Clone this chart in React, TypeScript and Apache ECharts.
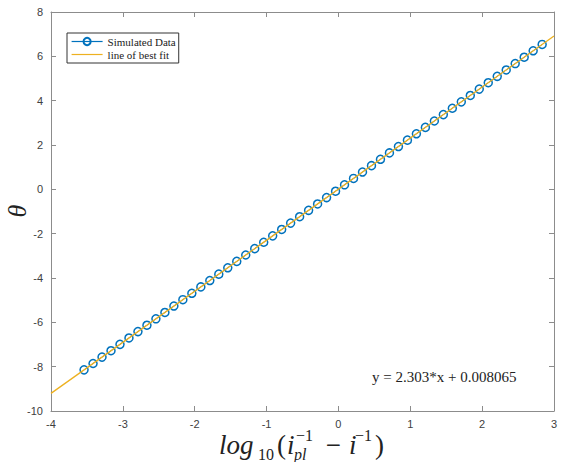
import React, { useEffect, useRef } from "react";
import * as echarts from "echarts";

// Simulated data: x = log10(i_pl^-1 - i^-1), y = theta
const simX = [
  -3.54, -3.415, -3.29, -3.165, -3.04, -2.915, -2.79, -2.665, -2.54, -2.415,
  -2.29, -2.165, -2.04, -1.915, -1.79, -1.665, -1.54, -1.415, -1.29, -1.165,
  -1.04, -0.915, -0.79, -0.665, -0.54, -0.415, -0.29, -0.165, -0.04, 0.085,
  0.21, 0.335, 0.46, 0.585, 0.71, 0.835, 0.96, 1.085, 1.21, 1.335,
  1.46, 1.585, 1.71, 1.835, 1.96, 2.085, 2.21, 2.335, 2.46, 2.585,
  2.71, 2.835,
];
const simY = [
  -8.1446, -7.8567, -7.5688, -7.2809, -6.993, -6.7052, -6.4173, -6.1294, -5.8415, -5.5537,
  -5.2658, -4.9779, -4.69, -4.4022, -4.1143, -3.8264, -3.5385, -3.2507, -2.9628, -2.6749,
  -2.387, -2.0992, -1.8113, -1.5234, -1.2355, -0.9477, -0.6598, -0.3719, -0.084, 0.2038,
  0.4917, 0.7796, 1.0675, 1.3553, 1.6432, 1.9311, 2.219, 2.5068, 2.7947, 3.0826,
  3.3705, 3.6583, 3.9462, 4.2341, 4.522, 4.8098, 5.0977, 5.3856, 5.6735, 5.9613,
  6.2492, 6.5371,
];

// Line of best fit endpoints (y = 2.303*x + 0.008065)
const fitX = [-4, 3];
const fitY = [-9.204, 6.917];
const equationLabel = "y = 2.303*x + 0.008065";

const xRange = { min: -4, max: 3, step: 1 };
const yRange = { min: -10, max: 8, step: 2 };

const seriesNames = ["Simulated Data", "line of best fit"];

const axisColor = "#8c8c8c";
const tickLabel = { color: "#404040", fontFamily: "Liberation Sans, Arial, sans-serif", fontSize: 11 };
const serif = "'Liberation Serif', 'Times New Roman', serif";

function boxAxis(kind: "x" | "y", position: string, labels: boolean) {
  const r = kind === "x" ? xRange : yRange;
  return {
    type: "value",
    position,
    min: r.min,
    max: r.max,
    interval: r.step,
    axisLine: { show: true, onZero: false, lineStyle: { color: axisColor, width: 1 } },
    axisTick: { show: true, inside: true, length: 5, lineStyle: { color: axisColor, width: 1 } },
    axisLabel: labels ? { show: true, margin: kind === "x" ? 7 : 8, ...tickLabel } : { show: false },
    splitLine: { show: false },
  };
}

function mathText(text: string, x: number, y: number, size: number, italic: boolean, rotation = 0, align = "left") {
  return {
    type: "text",
    x,
    y,
    rotation,
    silent: true,
    style: {
      text,
      font: `${italic ? "italic " : ""}${size}px ${serif}`,
      lineHeight: Math.round(size * 0.8),
      fill: "#222",
      textAlign: align,
      textVerticalAlign: "middle",
      align,
      verticalAlign: "middle",
    },
  };
}

export default function App() {
  const ref = useRef<HTMLDivElement>(null);

  useEffect(() => {
    if (!ref.current) return;
    const chart = echarts.init(ref.current, undefined, { renderer: "svg" });

    const main = 27;
    const small = 16;
    const base = 445;
    const sub = 454;
    const sup = 435;

    chart.setOption({
      animation: false,
      backgroundColor: "#ffffff",
      grid: { left: 51, right: 8, top: 12, bottom: 51, containLabel: false, outerBoundsMode: "none" },
      xAxis: [boxAxis("x", "bottom", true), boxAxis("x", "top", false)],
      yAxis: [boxAxis("y", "left", true), boxAxis("y", "right", false)],
      legend: {
        data: [
          { name: seriesNames[0] },
          { name: seriesNames[1], itemStyle: { color: "rgba(0,0,0,0)", borderWidth: 0 } },
        ],
        orient: "vertical",
        left: 67,
        top: 33,
        padding: [3, 3, 3, 4],
        itemGap: 2,
        itemWidth: 31,
        itemHeight: 9,
        itemTextGap: 5,
        backgroundColor: "#ffffff",
        borderColor: "#333333",
        borderWidth: 1,
        lineStyle: { width: 1.2 },
        textStyle: { fontFamily: serif, fontSize: 11, color: "#222" },
      },
      series: [
        {
          name: seriesNames[0],
          type: "line",
          xAxisIndex: 0,
          yAxisIndex: 0,
          data: simX.map((x, i) => [x, simY[i]]),
          symbol: "circle",
          symbolSize: 8,
          showSymbol: true,
          lineStyle: { color: "#0072BD", width: 1 },
          itemStyle: { color: "rgba(255,255,255,0)", borderColor: "#0072BD", borderWidth: 1.5 },
          z: 2,
        },
        {
          name: seriesNames[1],
          type: "line",
          xAxisIndex: 0,
          yAxisIndex: 0,
          data: fitX.map((x, i) => [x, fitY[i]]),
          symbol: "none",
          showSymbol: false,
          lineStyle: { color: "#EDB120", width: 1.3 },
          itemStyle: { color: "#EDB120" },
          z: 3,
        },
      ],
      graphic: [
        {
          type: "text",
          x: 372,
          y: 377,
          silent: true,
          style: {
            text: equationLabel,
            font: `15px ${serif}`,
            fill: "#222",
            textAlign: "left",
            textVerticalAlign: "middle",
            align: "left",
            verticalAlign: "middle",
          },
        },
        // rotated y-axis title
        mathText("θ", 17, 211, 26, true, Math.PI / 2, "center"),
        // x-axis title: log10(i_pl^-1 - i^-1)
        mathText("log", 219, base, main, true),
        mathText("10", 258, sub, small, false),
        mathText("(", 277, base, main, false),
        mathText("i", 287, base, main, true),
        mathText("−1", 296, sup, small, false),
        mathText("pl", 294, sub, small, true),
        mathText("− i", 324, base, main, true),
        mathText("−1", 355, sup, small, false),
        mathText(")", 375, base, main, false),
      ],
    });

    return () => chart.dispose();
  }, []);

  return (
    <div
      ref={ref}
      style={{ position: "fixed", left: 0, top: 0, width: 562, height: 462, background: "#fff" }}
    />
  );
}
